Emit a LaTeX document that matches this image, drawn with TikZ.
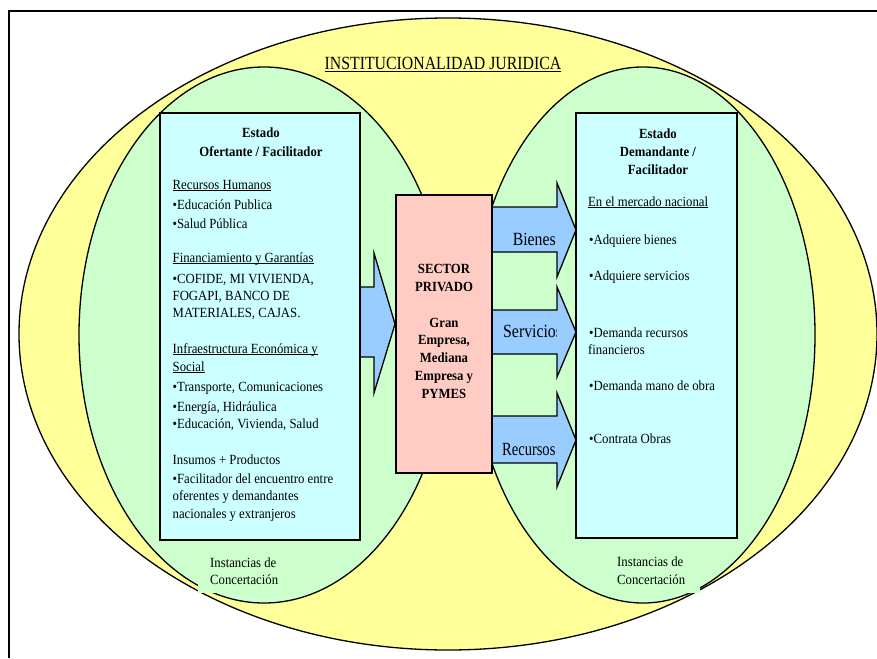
\documentclass[tikz,border=0pt]{standalone}
\usepackage{fontspec}
\setmainfont{Liberation Serif}
\newfontfamily\condfont[FakeStretch=0.85]{Liberation Serif}
\newfontfamily\condfontb[FakeStretch=0.78]{Liberation Serif}
\newfontfamily\bodyfont[FakeStretch=0.91]{Liberation Serif}
\definecolor{yel}{RGB}{255,255,153}
\definecolor{grn}{RGB}{204,255,204}
\definecolor{cyn}{RGB}{204,255,255}
\definecolor{pnk}{RGB}{255,204,196}
\definecolor{blu}{RGB}{153,204,255}
\newcommand\myul[1]{\setbox0\hbox{#1}\rlap{\rule[-1.6pt]{\wd0}{0.6pt}}\box0}
\begin{document}
\begin{tikzpicture}[x=1pt,y=-1pt,
  txt/.style={inner sep=0pt, anchor=base west, font=\bodyfont\fontsize{14}{16}\selectfont},
  ctxt/.style={inner sep=0pt, anchor=base, font=\bodyfont\fontsize{14}{16}\selectfont\bfseries},
  big/.style={inner sep=0pt, font=\condfont\fontsize{18.6}{20}\selectfont},
  boxline/.style={draw=black, line width=1.6pt},
  ell/.style={draw=black, line width=1.3pt},
  arr/.style={draw=black, fill=blu, line width=1.3pt, line join=miter}]
\useasboundingbox (0,0) rectangle (877,658);
% frame
\draw[line width=2pt] (9,658) -- (9,11) -- (877,11);
% ellipses
\draw[ell, fill=yel] (448,334) ellipse [x radius=429pt, y radius=316pt];
\draw[ell, fill=grn] (264,335) ellipse [x radius=185pt, y radius=268pt];
\draw[ell, fill=grn] (643,335) ellipse [x radius=172pt, y radius=268pt];
% title
\node[big, anchor=base] (title) at (443,70) {\myul{INSTITUCIONALIDAD JURIDICA}};
% left arrow
\draw[arr] (350,287) -- (374,287) -- (374,253) -- (395,324) -- (374,393) -- (374,357) -- (350,357) -- cycle;
% right arrows
\draw[arr] (485,207) -- (557,207) -- (557,183) -- (576,230) -- (557,277) -- (557,252) -- (485,252) -- cycle;
\draw[arr] (485,310) -- (557,310) -- (557,287) -- (576,332) -- (557,377) -- (557,354) -- (485,354) -- cycle;
\draw[arr] (485,416) -- (557,416) -- (557,393) -- (576,440) -- (557,487) -- (557,463) -- (485,463) -- cycle;
\begin{scope}
\clip (495,190) rectangle (556.5,480);
\node[big, anchor=base east] (bienes) at (556,245) {Bienes};
\node[big, anchor=base west] (servicios) at (503,337) {Servicios};
\node[big, anchor=base west, font=\condfontb\fontsize{18.6}{20}\selectfont] (recursos) at (502,455) {Recursos};
\end{scope}
% boxes
\draw[boxline, fill=cyn] (160,113) rectangle (360,540);
\draw[boxline, fill=cyn] (576,113) rectangle (737,538);
\draw[boxline, fill=pnk] (396,195) rectangle (492,473);
% left box text
\node[ctxt] (l1) at (261,137) {Estado};
\node[ctxt] (l2) at (261,156) {Ofertante / Facilitador};
\node[txt] (l3) at (172.5,189) {\myul{Recursos Humanos}};
\node[txt] (l4) at (172.5,209) {•Educación Publica};
\node[txt] (l5) at (172.5,228) {•Salud Pública};
\node[txt] (l6) at (172.5,262) {\myul{Financiamiento y Garantías}};
\node[txt] (l7) at (172.5,283) {•COFIDE, MI VIVIENDA,};
\node[txt] (l8) at (172.5,300) {FOGAPI, BANCO DE};
\node[txt] (l9) at (172.5,317) {MATERIALES, CAJAS.};
\node[txt] (l10) at (172.5,353) {\myul{Infraestructura Económica y}};
\node[txt] (l11) at (172.5,371) {\myul{Social}};
\node[txt] (l12) at (172.5,391) {•Transporte, Comunicaciones};
\node[txt] (l13) at (172.5,411) {•Energía, Hidráulica};
\node[txt] (l14) at (172.5,428) {•Educación, Vivienda, Salud};
\node[txt] (l15) at (172.5,464) {Insumos + Productos};
\node[txt] (l16) at (172.5,483) {•Facilitador del encuentro entre};
\node[txt] (l17) at (172.5,500) {oferentes y demandantes};
\node[txt] (l18) at (172.5,518) {nacionales y extranjeros};
% right box text
\node[ctxt] (r1) at (658,138) {Estado};
\node[ctxt] (r2) at (658,156) {Demandante /};
\node[ctxt] (r3) at (658,174) {Facilitador};
\node[txt] (r4) at (588,206) {\myul{En el mercado nacional}};
\node[txt] (r5) at (589,244) {•Adquiere bienes};
\node[txt] (r6) at (589,280) {•Adquiere servicios};
\node[txt] (r7) at (589,337) {•Demanda recursos};
\node[txt] (r8) at (588,354) {financieros};
\node[txt] (r9) at (589,390) {•Demanda mano de obra};
\node[txt] (r10) at (589,443) {•Contrata Obras};
% pink box text
\node[ctxt] (p1) at (444,273) {SECTOR};
\node[ctxt] (p2) at (444,291) {PRIVADO};
\node[ctxt] (p3) at (444,327) {Gran};
\node[ctxt] (p4) at (444,344) {Empresa,};
\node[ctxt] (p5) at (444,362) {Mediana};
\node[ctxt] (p6) at (444,380) {Empresa y};
\node[ctxt] (p7) at (444,398) {PYMES};
% Instancias de Concertacion labels
\fill[grn] (198,548) rectangle (293,593);
\fill[grn] (605,548) rectangle (700,593);
\node[txt] (il1) at (210,567) {Instancias de};
\node[txt] (il2) at (210,584) {Concertación};
\node[txt] (ir1) at (617,566) {Instancias de};
\node[txt] (ir2) at (617,584) {Concertación};
\end{tikzpicture}
\end{document}
